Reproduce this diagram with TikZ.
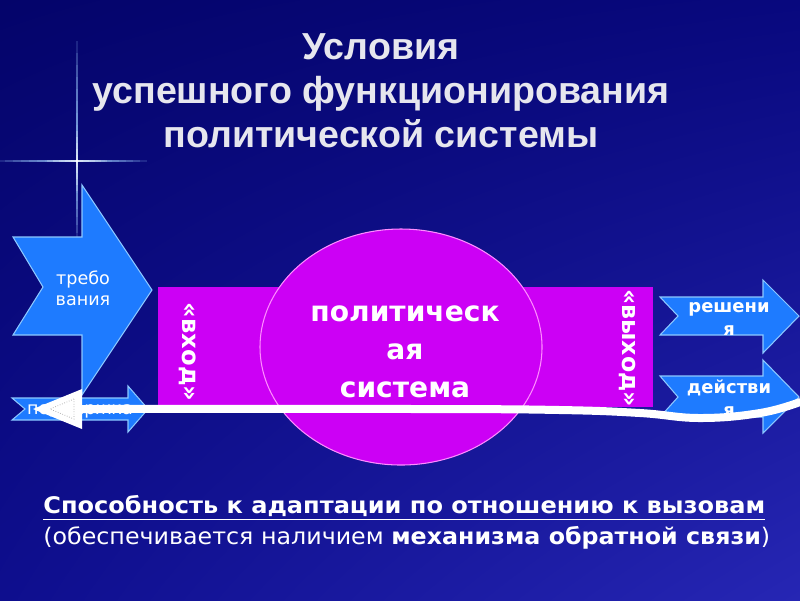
\documentclass[tikz,border=0pt]{standalone}
\usepackage{fontspec}
\setmainfont{DejaVu Sans}
\newfontfamily\arialf{Liberation Sans}
\usetikzlibrary{calc,shadings,shapes.geometric}
\definecolor{navyA}{HTML}{04046A}
\definecolor{navyB}{HTML}{08087E}
\definecolor{navyC}{HTML}{0E0E8E}
\definecolor{navyD}{HTML}{2626B4}
\definecolor{magentaF}{HTML}{CC00F5}
\definecolor{ellEdge}{HTML}{FF8CFF}
\definecolor{arrowBlue}{HTML}{1E7BFF}
\definecolor{arrowEdge}{HTML}{8CC8FF}
\definecolor{titleC}{HTML}{E6E6EE}
\definecolor{gleam}{HTML}{9FD0FF}
\tikzset{
  bluearrow/.style={fill=arrowBlue, draw=arrowEdge, line width=0.6pt},
  sysshape/.style={fill=magentaF},
  wtext/.style={text=white, inner sep=0pt, align=center},
  feedback/.style={draw=white, line width=8*0.02cm, line cap=round, line join=round},
  gleamline/.style={draw=gleam, line width=0.8pt, opacity=0.16}
}
\begin{document}
\begin{tikzpicture}[x=0.02cm, y=-0.02cm]
\useasboundingbox (0,0) rectangle (800,600);
% background
\shade[upper left=navyA, upper right=navyB, lower left=navyC, lower right=navyD] (0,0) rectangle (800,600);
% gleam star
\coordinate (star) at (77,161);
\foreach \k in {1,...,10} {
  \draw[gleamline] ($(star)+(0,-12*\k)$) -- ($(star)+(0,8*\k)$);
  \draw[gleamline] ($(star)+(-8*\k,0)$) -- ($(star)+(7*\k,0)$);
}
\foreach \k in {1,...,5} {
  \draw[white, line width=0.9pt, opacity=0.2] ($(star)+(0,-6*\k)$) -- ($(star)+(0,6*\k)$);
  \draw[white, line width=0.9pt, opacity=0.2] ($(star)+(-6*\k,0)$) -- ($(star)+(6*\k,0)$);
}
\fill[white] (star) circle (1.6);
% title
\node[text=titleC, inner sep=0pt, align=center, font=\arialf\bfseries\fontsize{21.4}{25}\selectfont] (title) at (381,91)
  {Условия\\успешного функционирования\\политической системы};
% system band and ellipse
\fill[sysshape] (158,287) rectangle (653,407);
\node[sysshape, draw=ellEdge, line width=0.6pt, ellipse, minimum width=282*0.02cm, minimum height=236*0.02cm, inner sep=0pt] (sys) at (401,347) {};
\node[wtext, font=\bfseries\fontsize{16}{21.5}\selectfont] (systext) at (405,352) {политическ\\ая\\система};
\node[wtext, rotate=-90, font=\bfseries\fontsize{13.8}{14}\selectfont] (vhod) at (188,352) {«вход»};
\node[wtext, rotate=-90, font=\bfseries\fontsize{13.5}{14}\selectfont] (vyhod) at (627,348) {«выход»};
% left arrows
\draw[bluearrow] (13,237) -- (82,237) -- (82,185) -- (152,290) -- (82,395) -- (82,335) -- (13,335) -- (43,287) -- cycle;
\node[wtext, font=\fontsize{10}{12}\selectfont] (treb) at (83,288) {требо\\вания};
\draw[bluearrow] (12,398) -- (128,398) -- (128,386) -- (148,409) -- (128,432) -- (128,420) -- (12,420) -- (25,409) -- cycle;
\node[wtext, font=\fontsize{10}{12}\selectfont] (podd) at (80,411) {поддержка};
% right arrows
\draw[bluearrow] (660,297) -- (763,297) -- (763,280) -- (799,316) -- (763,353) -- (763,335) -- (660,335) -- (678,316) -- cycle;
\node[wtext, font=\bfseries\fontsize{10.2}{13}\selectfont] (resh) at (729,319) {решени\\я};
\draw[bluearrow] (660,376) -- (763,376) -- (763,360) -- (799,397) -- (763,433) -- (763,417) -- (660,417) -- (678,397) -- cycle;
\node[wtext, font=\bfseries\fontsize{10.2}{13}\selectfont] (deyst) at (729,398) {действи\\я};
% feedback connector
\coordinate (fbstart) at (800,402);
\coordinate (fbend) at (80,409);
\draw[feedback] plot[smooth, tension=0.7] coordinates {(fbstart) (760,413) (700,418) (640,413) (560,410) (420,409) (fbend)};
\fill[white] (82,389) -- (82,429) -- (33,409) -- cycle;
\draw[gray!70, densely dotted, line width=0.4pt] (74,399) -- (74,419) -- (50,409) -- cycle;
% bottom text
\node[anchor=west, text=white, inner sep=0pt, font=\bfseries\fontsize{13}{15}\selectfont] (cap1) at (43,508)
  {\resizebox{14.44cm}{\height}{\underline{Способность к адаптации по отношению к вызовам}}};
\node[anchor=west, text=white, inner sep=0pt, font=\fontsize{13}{15}\selectfont] (cap2) at (43,538)
  {\resizebox{14.54cm}{\height}{(обеспечивается наличием \textbf{механизма обратной связи})}};
\end{tikzpicture}
\end{document}
